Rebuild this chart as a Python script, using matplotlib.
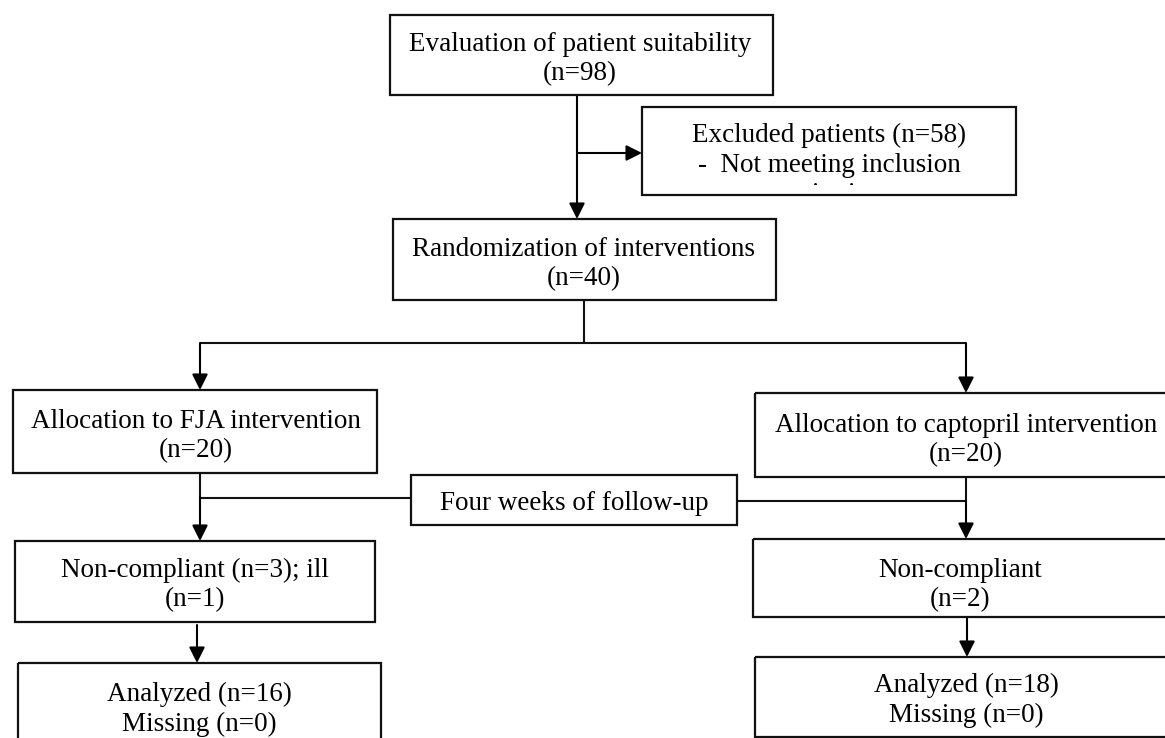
import matplotlib.pyplot as plt
from matplotlib.patches import Rectangle
from matplotlib.transforms import Bbox, TransformedBbox

# box texts
labels = [
    "Evaluation of patient suitability\n(n=98)",
    "Excluded patients (n=58)\n-  Not meeting inclusion\ncriteria",
    "Randomization of interventions\n(n=40)",
    "Allocation to FJA intervention\n(n=20)",
    "Allocation to captopril intervention\n(n=20)",
    "Four weeks of follow-up",
    "Non-compliant (n=3); ill\n(n=1)",
    "Non-compliant\n(n=2)",
    "Analyzed (n=16)\nMissing (n=0)",
    "Analyzed (n=18)\nMissing (n=0)",
]

# box geometry in pixels: left, top, right, bottom
boxes = [
    (390, 15, 773, 95),
    (642, 107, 1016, 195),
    (393, 219, 776, 300),
    (13, 390, 377, 473),
    (755, 393, 1177, 477),
    (411, 475, 737, 525),
    (15, 541, 375, 622),
    (753, 539, 1167, 617),
    (18, 663, 381, 760),
    (755, 657, 1177, 737),
]
# text centre (x, y)
text_pos = [
    (580, 59), (829, 165), (584, 264), (196, 436), (966, 440),
    (574, 503), (195, 585), (960, 585), (199, 709), (966, 700),
]
# lowest visible y of each box's text (Excluded box text runs past its box)
text_clip = [None, 185, None, None, None, None, None, None, None, None]

# plain connector lines
lines = [
    ((584, 300), (584, 343)),
    ((200, 343), (966, 343)),
    ((200, 473), (200, 497)),
    ((200, 498), (411, 498)),
    ((737, 501), (966, 501)),
    ((966, 477), (966, 501)),
]
# arrows: start -> tip
arrows = [
    ((577, 95), (577, 219)),
    ((577, 153), (642, 153)),
    ((200, 343), (200, 390)),
    ((966, 343), (966, 393)),
    ((200, 497), (200, 541)),
    ((966, 501), (966, 539)),
    ((197, 625), (197, 663)),
    ((967, 617), (967, 657)),
]

fig = plt.figure(figsize=(11.65, 7.38), dpi=100)
ax = fig.add_axes([0, 0, 1, 1])
ax.set_xlim(0, 1165)
ax.set_ylim(738, 0)
ax.axis('off')

font = dict(family='Liberation Serif', size=19.5, color='black')

for (x0, y0, x1, y1), lab, (tx, ty), yc in zip(boxes, labels, text_pos, text_clip):
    rect = Rectangle((x0, y0), x1 - x0, y1 - y0, fill=False,
                     edgecolor='#111111', lw=1.6, zorder=3)
    ax.add_patch(rect)
    t = ax.text(tx, ty, lab, ha='center', va='center', linespacing=1.25,
                zorder=4, **font)
    if yc is not None:
        t.set_clip_on(True)
        t.set_clip_path(None)
        t.set_clip_box(TransformedBbox(Bbox([[x0, y0], [x1, yc]]), ax.transData))

for (a, b) in lines:
    ax.plot([a[0], b[0]], [a[1], b[1]], color='#111111', lw=1.5,
            solid_capstyle='butt', zorder=2)

for (a, b) in arrows:
    ax.annotate('', xy=b, xytext=a,
                arrowprops=dict(arrowstyle='-|>,head_length=0.5,head_width=0.25',
                                mutation_scale=19, color='black', lw=1.5,
                                shrinkA=0, shrinkB=0), zorder=2)

fig.savefig('out.png', dpi=100)
